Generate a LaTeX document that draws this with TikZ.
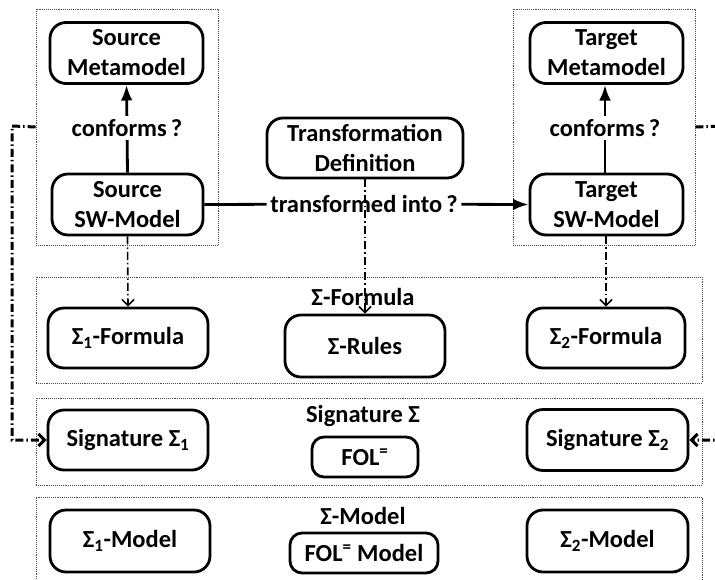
\documentclass[tikz,border=0pt]{standalone}
\usepackage{fontspec}
\setmainfont{Carlito}
\usetikzlibrary{arrows.meta}

\begin{document}
\begin{tikzpicture}[
  x=1pt, y=-1pt,
  >=Latex,
  every node/.style={font=\bfseries\fontsize{24.5}{30}\selectfont},
  box/.style={draw, line width=2.8pt, rounded corners=16pt, align=center, inner sep=0pt},
  frame/.style={draw=black!70, densely dotted, line width=0.9pt, inner sep=0pt},
  link/.style={line width=2.8pt},
  map/.style={-{Straight Barb[length=6pt,width=12pt]}, line width=1.6pt,
    dash pattern=on 8pt off 3pt on 1.5pt off 3pt},
  sigmap/.style={map, line width=3pt}
]
\useasboundingbox (0,0) rectangle (715,579);
\clip (0,0) rectangle (715,579);

%========== frames ==========
\node[frame, minimum width=182pt, minimum height=236pt] (srcFrame) at (127,127) {};
\node[frame, minimum width=182pt, minimum height=236pt] (tgtFrame) at (604,127) {};
\node[frame, minimum width=666pt, minimum height=106pt] (formFrame) at (369,330) {};
\node[frame, minimum width=666pt, minimum height=87pt] (sigFrame) at (369,441.5) {};
\node[frame, minimum width=666pt, minimum height=103pt] (modFrame) at (369,548.5) {};

%========== software models ==========
\node[box, minimum width=153pt, minimum height=61pt] (srcMeta) at (126.5,53) {Source\\Metamodel};
\node[box, minimum width=151pt, minimum height=61pt] (srcModel) at (127.5,204.5) {Source\\SW-Model};
\node[box, minimum width=153pt, minimum height=61pt] (tgtMeta) at (606.5,53) {Target\\Metamodel};
\node[box, minimum width=153pt, minimum height=61pt] (tgtModel) at (606.5,204.5) {Target\\SW-Model};
\node[box, minimum width=196pt, minimum height=60pt] (trDef) at (365,148) {Transformation\\Definition};

\node (srcConf) at (127,128) {conforms\,?};
\node (tgtConf) at (605,128) {conforms\,?};
\node (trInto) at (364,204) {transformed into\,?};

\draw[link] (srcModel.north) -- (srcConf);
\draw[link,->] (srcConf) -- (srcMeta.south);
\draw[link] (tgtModel.north -| tgtConf) -- (tgtConf);
\draw[link,->] (tgtConf) -- (tgtMeta.south -| tgtConf);
\draw[link] (srcModel.east) -- (trInto);
\draw[link,->] (trInto) -- (tgtModel.west);

%========== formulas ==========
\node (formLbl) at (363,297) {Σ-Formula};
\node[box, minimum width=160pt, minimum height=60pt] (form1) at (128,338) {Σ\textsubscript{1}-Formula};
\node[box, minimum width=160pt, minimum height=62pt] (rules) at (365,346) {Σ-Rules};
\node[box, minimum width=158pt, minimum height=60pt] (form2) at (606,338) {Σ\textsubscript{2}-Formula};

\draw[map] (srcModel.south) -- (form1.north);
\draw[map] (trDef.south) -- (rules.north);
\draw[map] (tgtModel.south -| form2) -- (form2.north);

%========== signatures ==========
\node (sigLbl) at (363,416) {Signature Σ};
\node[box, minimum width=160pt, minimum height=60pt] (sig1) at (128,440) {Signature Σ\textsubscript{1}};
\node[box, minimum width=106pt, minimum height=40pt, rounded corners=12pt] (fol) at (365,457) {FOL\textsuperscript{=}};
\node[box, minimum width=161pt, minimum height=61pt] (sig2) at (607.5,440) {Signature Σ\textsubscript{2}};

\coordinate (lBend) at (12,126);
\coordinate (rBend) at (724,126);
\draw[sigmap] (srcFrame.west) -- (lBend) |- (sig1.west);
\draw[sigmap] (tgtFrame.east) -- (rBend) |- (sig2.east);

%========== models ==========
\node (modLbl) at (363,516) {Σ-Model};
\node[box, minimum width=160pt, minimum height=62pt] (mod1) at (130,541) {Σ\textsubscript{1}-Model};
\node[box, minimum width=148pt, minimum height=40pt, rounded corners=12pt] (folMod) at (364,553) {FOL\textsuperscript{=} Model};
\node[box, minimum width=161pt, minimum height=62pt] (mod2) at (607.5,541) {Σ\textsubscript{2}-Model};
\end{tikzpicture}
\end{document}
